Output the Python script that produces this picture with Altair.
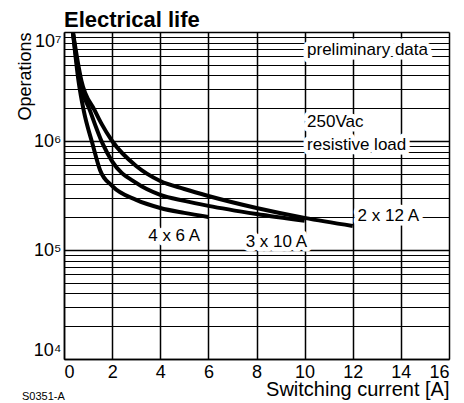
import altair as alt
import pandas as pd

# ---- data ----
series_names = ["4 x 6 A", "3 x 10 A", "2 x 12 A"]

x_4x6 = [0.37, 0.6, 0.82, 1.18, 1.5, 2, 3, 4, 5, 6]
y_4x6 = [1.0e7, 3.6e6, 1.9e6, 9.5e5, 5.4e5, 3.87e5, 2.88e5, 2.43e5, 2.19e5, 2.01e5]

x_3x10 = [0.37, 0.65, 1.08, 1.6, 2, 3, 4, 5, 6, 8, 10]
y_3x10 = [1.0e7, 3.6e6, 1.9e6, 9.5e5, 6.5e5, 4.12e5, 3.2e5, 2.82e5, 2.54e5, 2.14e5, 1.85e5]

x_2x12 = [0.37, 0.72, 1.28, 1.55, 2, 3, 4, 5, 6, 8, 10, 12]
y_2x12 = [1.0e7, 3.6e6, 1.9e6, 1.45e6, 1.0e6, 5.9e5, 4.3e5, 3.63e5, 3.13e5, 2.43e5, 1.97e5, 1.66e5]

x_ticks = [0, 2, 4, 6, 8, 10, 12, 14, 16]
y_grid = [m * 10 ** d for d in (4, 5, 6) for m in range(1, 10)] + [10 ** 7]
decades = [10 ** 4, 10 ** 5, 10 ** 6, 10 ** 7]

note_text = ["preliminary data", "250Vac", "resistive load", "4 x 6 A", "3 x 10 A", "2 x 12 A"]
note_x = [10.1, 10.1, 10.1, 3.5, 7.55, 12.2]
note_y = [6.8e6, 1.5e6, 9.2e5, 1.34e5, 1.18e5, 2.05e5]

FONT = "Liberation Sans, Arial, sans-serif"

rows = []
for name, xs, ys in [(series_names[0], x_4x6, y_4x6),
                     (series_names[1], x_3x10, y_3x10),
                     (series_names[2], x_2x12, y_2x12)]:
    for xv, yv in zip(xs, ys):
        rows.append({"series": name, "x": xv, "y": yv})
curves = pd.DataFrame(rows)
notes = pd.DataFrame({"text": note_text, "x": note_x, "y": note_y})

label_expr = ("datum.value == 10000 ? '10⁴' : datum.value == 100000 ? '10⁵' : "
              "datum.value == 1000000 ? '10⁶' : datum.value == 10000000 ? '10⁷' : ''")
decade_test = "indexof([10000,100000,1000000,10000000], datum.value) >= 0"

x_enc = alt.X("x:Q", scale=alt.Scale(domain=[0, 16], nice=False),
              axis=alt.Axis(values=x_ticks, grid=True, gridColor="black", gridWidth=1.5,
                            ticks=False, domainColor="black", domainWidth=1.5,
                            labelFlush=True, labelFontSize=18, labelFont=FONT,
                            labelColor="black", labelPadding=4,
                            title="Switching current [A]", titleFont=FONT, titleFontSize=20,
                            titleFontWeight="normal", titleColor="black",
                            titleAnchor="end", titlePadding=-2))
y_enc = alt.Y("y:Q", scale=alt.Scale(type="log", domain=[1e4, 1e7], nice=False),
              axis=alt.Axis(values=y_grid, grid=True, gridColor="black",
                            gridWidth={"condition": {"test": decade_test, "value": 1.6}, "value": 1},
                            ticks=False, domainColor="black", domainWidth=1.5,
                            labelExpr=label_expr, labelFlush=True, labelOverlap=False,
                            labelFontSize=18, labelFont=FONT, labelColor="black", labelPadding=3,
                            title="Operations", titleFont=FONT, titleFontSize=18,
                            titleFontWeight="normal", titleColor="black",
                            titleAngle=270, titleAlign="right", titleBaseline="bottom",
                            titleX=-30, titleY=0))

lines = alt.Chart(curves).mark_line(color="black", strokeWidth=4, interpolate="monotone",
                                    clip=True).encode(x=x_enc, y=y_enc, detail="series:N")

halo = alt.Chart(notes).mark_text(align="left", baseline="middle", fontSize=17, font=FONT,
                                  color="white", stroke="white", strokeWidth=9,
                                  strokeJoin="round").encode(x="x:Q", y="y:Q", text="text:N")
labels = alt.Chart(notes).mark_text(align="left", baseline="middle", fontSize=17, font=FONT,
                                    color="black").encode(x="x:Q", y="y:Q", text="text:N")

code = alt.Chart(pd.DataFrame({"t": ["S0351-A"]})).mark_text(
    align="left", baseline="middle", fontSize=11, font=FONT, color="black"
).encode(x=alt.value(-42), y=alt.value(365), text="t:N")

chart = alt.layer(lines, halo, labels, code).properties(
    width=385, height=327,
    title=alt.TitleParams("Electrical life", anchor="start", frame="group", fontSize=22,
                          fontWeight="bold", font="Liberation Sans, Arial, sans-serif",
                          color="black", offset=4, baseline="alphabetic", dy=25),
    autosize=alt.AutoSizeParams(type="none"),
    padding={"left": 56, "top": 24, "right": 7, "bottom": 46},
).configure_view(stroke="black", strokeWidth=1.5).configure(background="white")

chart.save("out.html", embed_options={"renderer": "svg", "actions": False})
